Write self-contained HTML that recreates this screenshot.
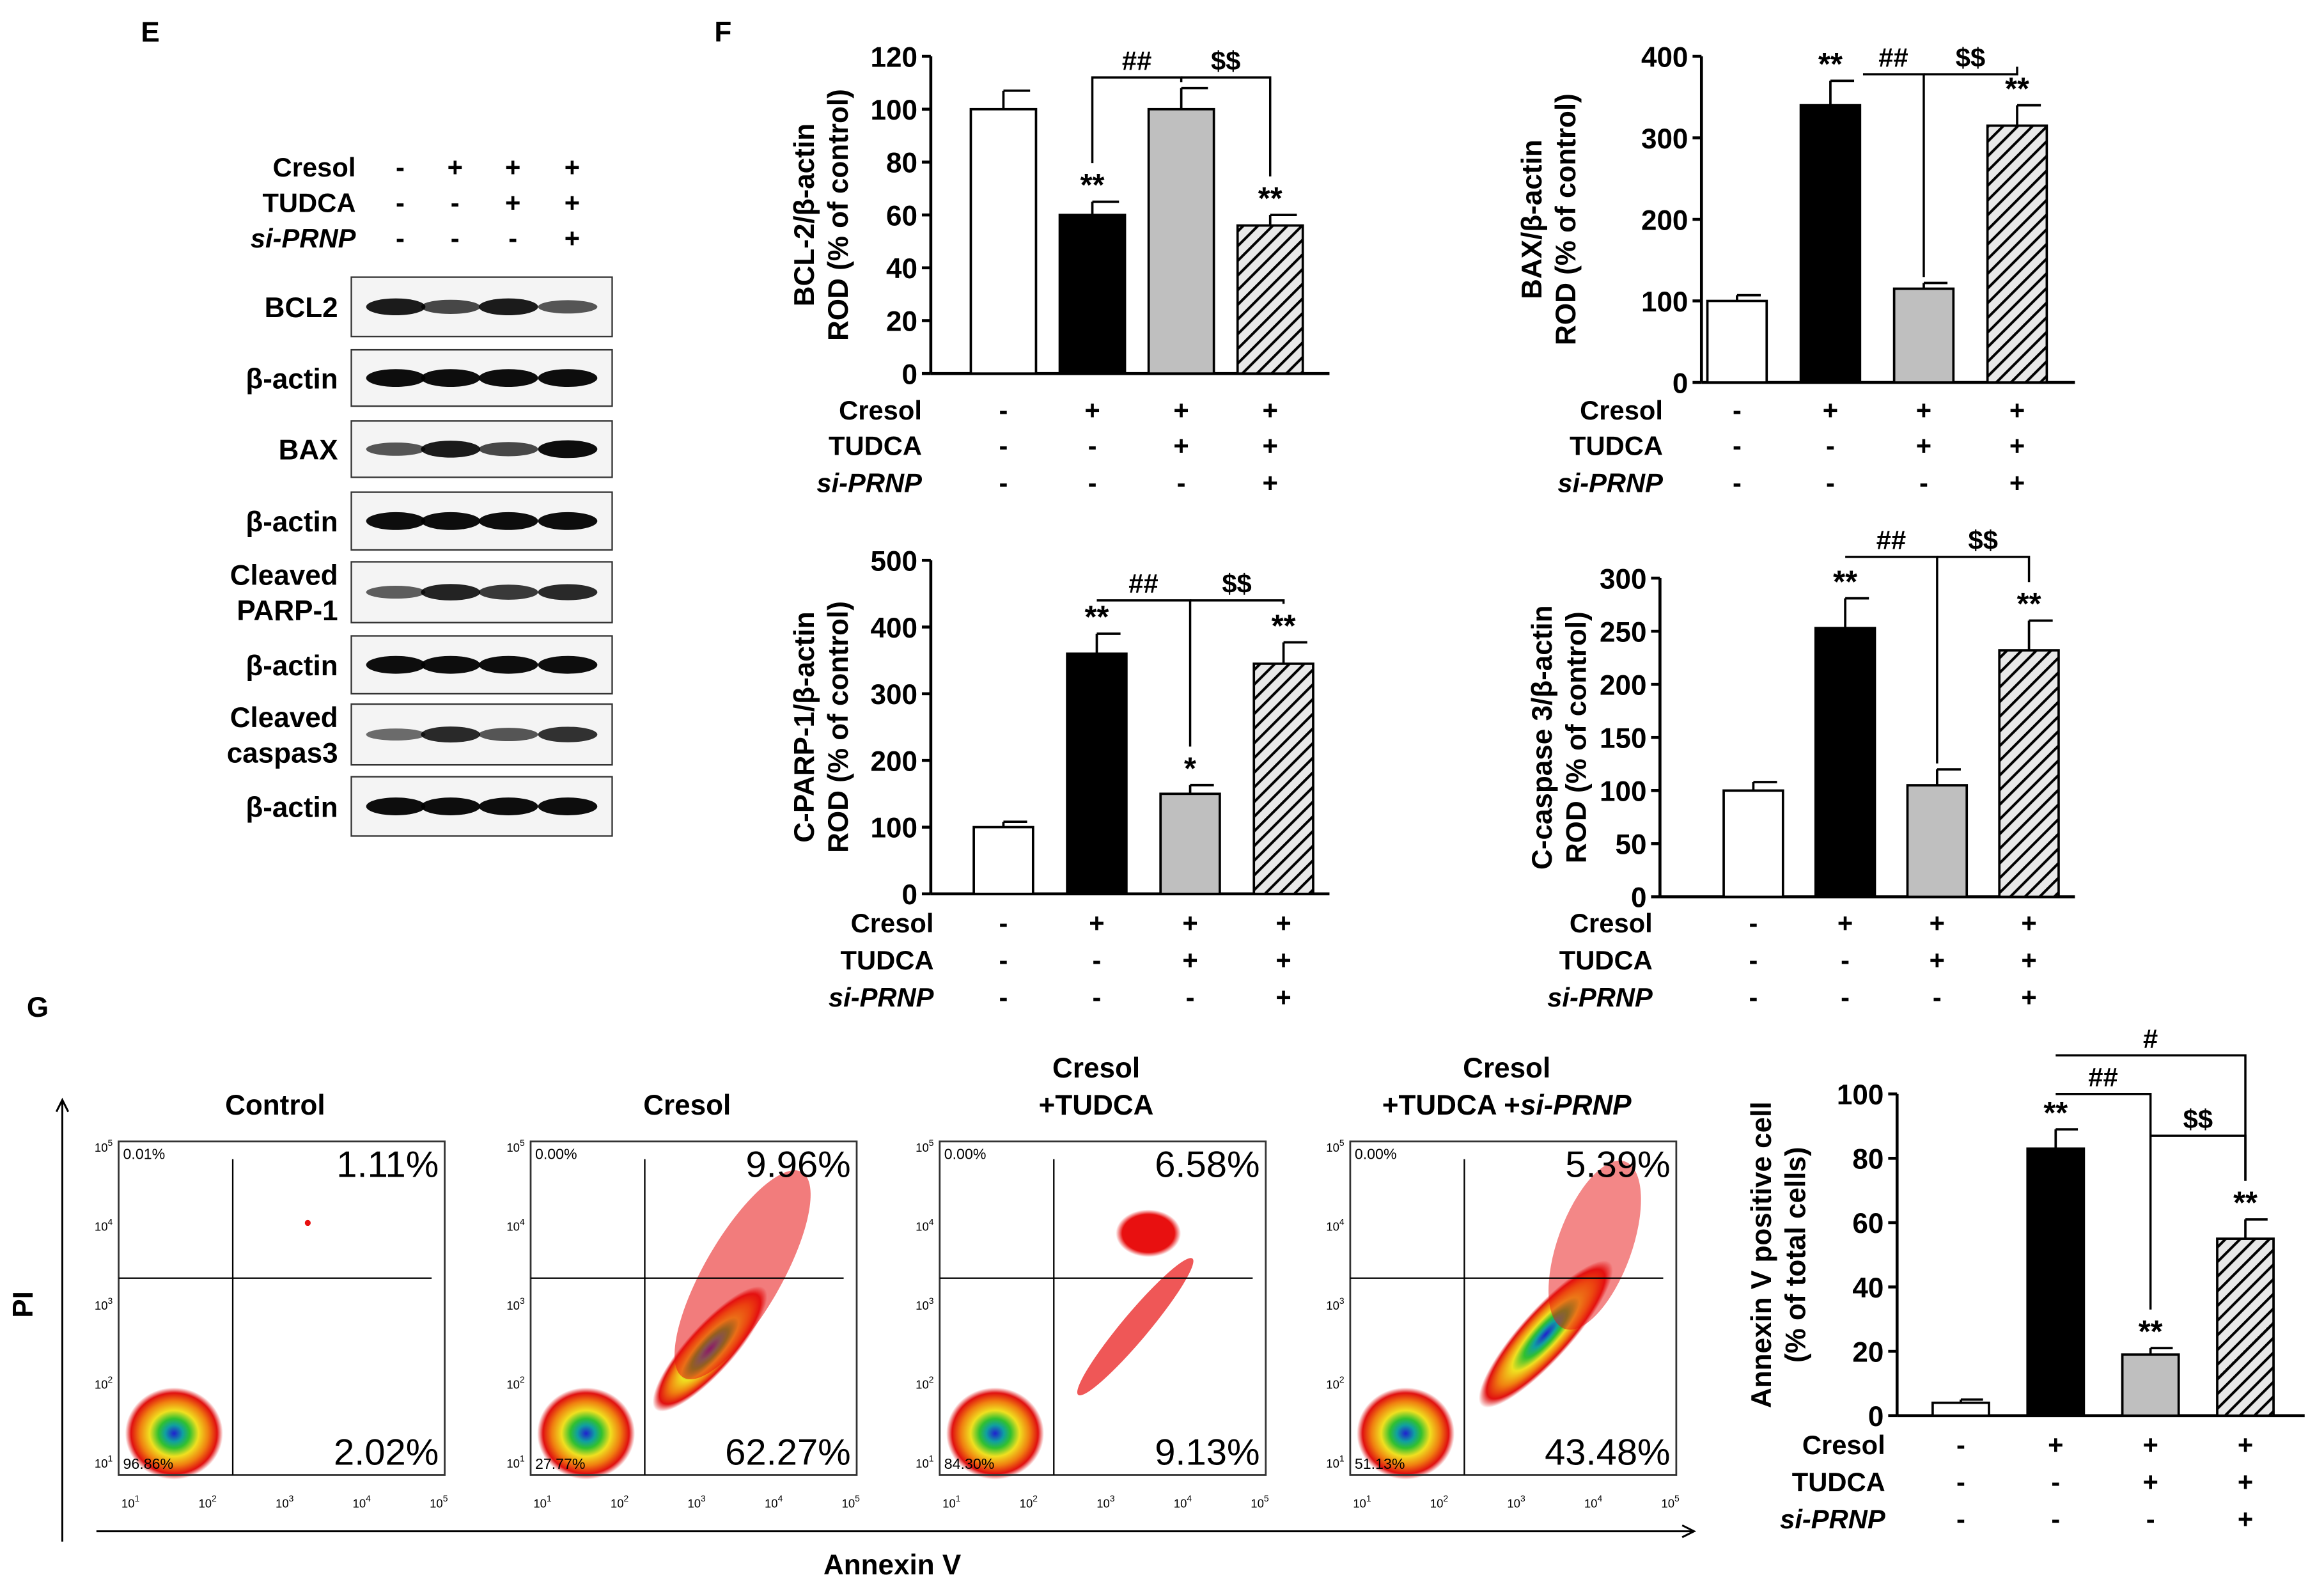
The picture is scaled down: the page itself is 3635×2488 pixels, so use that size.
<!DOCTYPE html>
<html><head><meta charset="utf-8"><style>
html,body{margin:0;padding:0;background:#fff}
svg{display:block}
text{font-family:"Liberation Sans",Arial,sans-serif;font-weight:bold;fill:#000}
</style></head><body>
<svg id="fig" xmlns="http://www.w3.org/2000/svg" width="3635" height="2488" viewBox="0 0 1568 1073.3">
<defs>
<pattern id="hatch" patternUnits="userSpaceOnUse" width="7" height="7" patternTransform="rotate(45)">
<rect width="7" height="7" fill="#e8e8e8"/><line x1="0" y1="0" x2="0" y2="7" stroke="#000" stroke-width="3.5"/>
</pattern>
<radialGradient id="blob">
<stop offset="0" stop-color="#2020d0"/><stop offset="0.18" stop-color="#10a0a0"/><stop offset="0.32" stop-color="#30c030"/>
<stop offset="0.5" stop-color="#f0e020"/><stop offset="0.7" stop-color="#f08010"/><stop offset="0.88" stop-color="#e01010"/><stop offset="1" stop-color="#e01010" stop-opacity="0"/>
</radialGradient>
<radialGradient id="redblob"><stop offset="0" stop-color="#e81010"/><stop offset="0.8" stop-color="#e81010"/><stop offset="1" stop-color="#e81010" stop-opacity="0"/></radialGradient>
</defs>
<g id="root"></g>
</svg>
<script>
// ---- chart data ----
const groups=["Control","Cresol","Cresol+TUDCA","Cresol+TUDCA+si-PRNP"];
const cresolRow=["-","+","+","+"];
const tudcaRow=["-","-","+","+"];
const siRow=["-","-","-","+"];
const bclValues=[100,60,100,56];
const bclErr=[7,5,8,4];
const bclStars=["","**","","**"];
const bclTicks=[0,20,40,60,80,100,120];
const baxValues=[100,340,115,315];
const baxErr=[7,30,7,25];
const baxStars=["","**","","**"];
const baxTicks=[0,100,200,300,400];
const parpValues=[100,360,150,345];
const parpErr=[8,30,13,32];
const parpStars=["","**","*","**"];
const parpTicks=[0,100,200,300,400,500];
const caspValues=[100,253,105,232];
const caspErr=[8,28,15,28];
const caspStars=["","**","","**"];
const caspTicks=[0,50,100,150,200,250,300];
const annexValues=[4,83,19,55];
const annexErr=[1,6,2,6];
const annexStars=["","**","**","**"];
const annexTicks=[0,20,40,60,80,100];
const flowTitles=[["Control"],["Cresol"],["Cresol","+TUDCA"],["Cresol","+TUDCA +si-PRNP"]];
const flowUL=["0.01%","0.00%","0.00%","0.00%"];
const flowUR=["1.11%","9.96%","6.58%","5.39%"];
const flowLR=["2.02%","62.27%","9.13%","43.48%"];
const flowLL=["96.86%","27.77%","84.30%","51.13%"];

const NS="http://www.w3.org/2000/svg";
const root=document.getElementById('root');
function el(tag,attrs,parent,txt){const e=document.createElementNS(NS,tag);for(const k in attrs)e.setAttribute(k,attrs[k]);if(txt!==undefined)e.textContent=txt;(parent||root).appendChild(e);return e;}
const fills=["#fff","#000","#bfbfbf","url(#hatch)"];

let t=el('text',{x:95,y:28,'font-size':19},root,"E");


t=el('text',{x:482,y:28,'font-size':19},root,"F");


t=el('text',{x:18,y:686,'font-size':19},root,"G");



function treatRows(g,cx,ys,lx){
  const names=["Cresol","TUDCA","si-PRNP"];const rows=[cresolRow,tudcaRow,siRow];
  for(let r=0;r<3;r++){
    const lab=el('text',{x:lx,y:ys[r]+6,'font-size':18,'text-anchor':'end','font-style':r==2?'italic':'normal'},g,names[r]);
    
    
    for(let i=0;i<4;i++){
      const s=el('text',{x:cx[i],y:ys[r]+6,'font-size':18,'text-anchor':'middle'},g,rows[r][i]);
      
      
    }
  }
}

function barChart(o){
  const g=el('g',{});
  
  
  const max=o.ticks[o.ticks.length-1];
  const ys=v=>o.y0-(v/max)*(o.y0-o.yTop);
  const cx=[0,1,2,3].map(i=>o.c0+i*o.sp);
  el('line',{x1:o.x0,y1:o.yTop,x2:o.x0,y2:o.y0,stroke:'#000','stroke-width':2},g);
  el('line',{x1:o.x0,y1:o.y0,x2:o.x1,y2:o.y0,stroke:'#000','stroke-width':2},g);
  o.ticks.forEach(v=>{
    el('line',{x1:o.x0-6,y1:ys(v),x2:o.x0,y2:ys(v),stroke:'#000','stroke-width':2},g);
    const tl=el('text',{x:o.x0-9,y:ys(v)+7,'font-size':19,'text-anchor':'end'},g,v);
    
    
  });
  const tg=el('text',{transform:`translate(${o.tx},${(o.yTop+o.y0)/2}) rotate(-90)`,'font-size':19,'text-anchor':'middle'},g);
  el('tspan',{x:0,dy:0},tg,o.title1);
  el('tspan',{x:0,dy:23},tg,o.title2);
  
  
  o.values.forEach((v,i)=>{
    const b=el('rect',{x:cx[i]-o.bw/2,y:ys(v),width:o.bw,height:o.y0-ys(v),fill:fills[i],stroke:'#000','stroke-width':1.6},g);
    
    
    const et=ys(v+o.err[i]);
    const e=el('path',{d:`M${cx[i]},${ys(v)} V${et} M${cx[i]},${et} H${cx[i]+o.bw/2-4}`,stroke:'#000','stroke-width':1.6,fill:'none'},g);
    
    
    if(o.stars[i]){
      const st=el('text',{x:cx[i],y:et-4,'font-size':21,'text-anchor':'middle'},g,o.stars[i]);
      
      
    }
  });
  o.brackets.forEach(bk=>{
    const [a,b,lev,lab,dropA,dropB,offA]=bk;const yl=ys(lev);
    const xa=cx[a]+(offA||0);
    const ya=dropA?ys(o.values[a]+o.err[a])-(o.stars[a]?26:4):yl;
    const yb=dropB?ys(o.values[b]+o.err[b])-(o.stars[b]?26:4):yl;
    const p=el('path',{d:`M${xa},${ya} V${yl} H${cx[b]} V${yb}`,stroke:'#000','stroke-width':1.5,fill:'none'},g);
    
    
    const bl=el('text',{x:(xa+cx[b])/2,y:yl-5,'font-size':18,'text-anchor':'middle'},g,lab);
    
    
  });
  treatRows(g,cx,o.rows,o.lx);
}

barChart({name:'bcl2-chart',x0:628,x1:897,y0:252,yTop:38,c0:677,sp:60,bw:44,values:bclValues,err:bclErr,stars:bclStars,ticks:bclTicks,
 title1:'BCL-2/β-actin',title2:'ROD (% of control)',tx:549,rows:[277,301,326],lx:622,
 brackets:[[1,2,112,'##',true,true],[2,3,112,'$$',false,true]]});
barChart({name:'bax-chart',x0:1148,x1:1400,y0:258,yTop:38,c0:1172,sp:63,bw:40,values:baxValues,err:baxErr,stars:baxStars,ticks:baxTicks,
 title1:'BAX/β-actin',title2:'ROD (% of control)',tx:1040,rows:[277,301,326],lx:1122,
 brackets:[[1,2,378,'##',false,true,22],[2,3,378,'$$',false,true]]});
barChart({name:'parp-chart',x0:628,x1:897,y0:603,yTop:378,c0:677,sp:63,bw:40,values:parpValues,err:parpErr,stars:parpStars,ticks:parpTicks,
 title1:'C-PARP-1/β-actin',title2:'ROD (% of control)',tx:549,rows:[623,648,673],lx:630,
 brackets:[[1,2,440,'##',false,true],[2,3,440,'$$',false,true]]});
barChart({name:'caspase3-chart',x0:1120,x1:1400,y0:605,yTop:390,c0:1183,sp:62,bw:40,values:caspValues,err:caspErr,stars:caspStars,ticks:caspTicks,
 title1:'C-caspase 3/β-actin',title2:'ROD (% of control)',tx:1047,rows:[623,648,673],lx:1115,
 brackets:[[1,2,320,'##',false,true],[2,3,320,'$$',false,true]]});
barChart({name:'annexin-chart',x0:1280,x1:1555,y0:955,yTop:738,c0:1323,sp:64,bw:38,values:annexValues,err:annexErr,stars:annexStars,ticks:annexTicks,
 title1:'Annexin V positive cell',title2:'(% of total cells)',tx:1195,rows:[975,1000,1025],lx:1272,
 brackets:[[1,2,100,'##',false,true],[1,3,112,'#',false,true],[2,3,87,'$$',false,true]]});

// western blot
(function(){
  const g=el('g',{});
  
  
  const cols=[270,307,346,386];
  treatRows(g,cols,[113,137,161],240);
  const blots=[["BCL2",187,227,[0.9,0.6,0.9,0.5]],["β-actin",236,274,[1,1,1,1]],["BAX",284,322,[0.5,0.9,0.6,1]],["β-actin",332,371,[1,1,1,1]],
   ["Cleaved|PARP-1",379,420,[0.45,0.85,0.7,0.8]],["β-actin",429,468,[1,1,1,1]],["Cleaved|caspas3",475,516,[0.35,0.8,0.5,0.75]],["β-actin",524,564,[1,1,1,1]]];
  blots.forEach(b=>{
    const r=el('rect',{x:237,y:b[1],width:176,height:b[2]-b[1],fill:'#f4f4f4',stroke:'#333','stroke-width':1},g);
    
    
    const mid=(b[1]+b[2])/2;
    b[3].forEach((k,i)=>{
      el('ellipse',{cx:cols[i]-3,cy:mid,rx:20,ry:3+3*k,fill:'#000','fill-opacity':0.35+0.6*k},g);
    });
    const parts=b[0].split('|');
    parts.forEach((p,j)=>{
      const l=el('text',{x:228,y:mid+7+(parts.length==2?(j==0?-12:12):0),'font-size':19,'text-anchor':'end'},g,p);
      
      
    });
  });
})();

// flow cytometry
const flowX=[80,358,634,911];
(function(){
  const g=el('g',{});
  
  
  const W=220,top=770,bot=995;
  flowX.forEach((x0,k)=>{
    const p=el('g',{},g);
    
    
    const qx=x0+W*0.35,qy=top+(bot-top)*0.41;
    el('ellipse',{cx:x0+W*0.17,cy:bot-28,rx:33,ry:31,fill:'url(#blob)'},p);
    if(k==1){el('ellipse',{cx:x0+W*0.55,cy:bot-85,rx:55,ry:16,transform:`rotate(-48 ${x0+W*0.55} ${bot-85})`,fill:'url(#blob)'},p);
      el('ellipse',{cx:x0+W*0.65,cy:top+90,rx:80,ry:26,transform:`rotate(-60 ${x0+W*0.65} ${top+90})`,fill:'#e81010','fill-opacity':0.55},p);}
    if(k==2){el('ellipse',{cx:x0+W*0.6,cy:bot-100,rx:60,ry:9,transform:`rotate(-50 ${x0+W*0.6} ${bot-100})`,fill:'#e81010','fill-opacity':0.7},p);
      el('ellipse',{cx:x0+W*0.64,cy:top+62,rx:22,ry:16,fill:'url(#redblob)'},p);}
    if(k==3){el('ellipse',{cx:x0+W*0.6,cy:bot-95,rx:65,ry:17,transform:`rotate(-48 ${x0+W*0.6} ${bot-95})`,fill:'url(#blob)'},p);
      el('ellipse',{cx:x0+W*0.75,cy:top+70,rx:60,ry:25,transform:`rotate(-70 ${x0+W*0.75} ${top+70})`,fill:'#e81010','fill-opacity':0.5},p);}
    if(k==0){el('circle',{cx:x0+W*0.58,cy:top+55,r:2,fill:'#e81010'},p);}
    el('rect',{x:x0,y:top,width:W,height:bot-top,fill:'none',stroke:'#333','stroke-width':1.2},p);
    el('line',{x1:qx,y1:top+12,x2:qx,y2:bot,stroke:'#000','stroke-width':1},p);
    el('line',{x1:x0,y1:qy,x2:x0+W*0.96,y2:qy,stroke:'#000','stroke-width':1},p);
    const tt=flowTitles[k];
    tt.forEach((s,j)=>{
      const yy=tt.length==1?752:727+j*25;
      const tx=el('text',{x:x0+W*0.48,y:yy,'font-size':19,'text-anchor':'middle'},p);
      if(s.indexOf('si-PRNP')>=0){el('tspan',{},tx,'+TUDCA +');el('tspan',{'font-style':'italic'},tx,'si-PRNP');}else tx.textContent=s;
      
      
    });
    const q=[[flowUL[k],x0+3,top+12,10,'start'],[flowUR[k],x0+W-4,top+24,25,'end'],[flowLR[k],x0+W-4,bot-7,25,'end'],[flowLL[k],x0+3,bot-4,10,'start']];
    q.forEach(a=>{const qt=el('text',{x:a[1],y:a[2],'font-size':a[3],'text-anchor':a[4],style:'font-weight:normal'},p,a[0]);
      
      });
    for(let d=1;d<=5;d++){
      const tx=x0+8+(d-1)*(W-12)/4;
      el('text',{x:tx,y:bot+22,'font-size':8,'text-anchor':'middle',style:'font-weight:normal'},p,'10').appendChild((()=>{const s=document.createElementNS(NS,'tspan');s.setAttribute('dy','-4');s.setAttribute('font-size','6');s.textContent=d;return s;})());
      const ty=bot-8-(d-1)*(bot-top-12)/4;
      el('text',{x:x0-4,y:ty+3,'font-size':8,'text-anchor':'end',style:'font-weight:normal'},p,'10').appendChild((()=>{const s=document.createElementNS(NS,'tspan');s.setAttribute('dy','-4');s.setAttribute('font-size','6');s.textContent=d;return s;})());
    }
  });
  el('path',{d:'M42,1040 V742 M38,750 L42,742 L46,750',stroke:'#000','stroke-width':1.3,fill:'none'},g);
  el('path',{d:'M65,1033 H1143 M1135,1029 L1143,1033 L1135,1037',stroke:'#000','stroke-width':1.3,fill:'none'},g);
  const pi=el('text',{transform:'translate(22,880) rotate(-90)','font-size':19,'text-anchor':'middle'},g,'PI');
  
  
  const av=el('text',{x:602,y:1062,'font-size':19,'text-anchor':'middle'},g,'Annexin V');
  
  
})();
</script>
</body></html>
